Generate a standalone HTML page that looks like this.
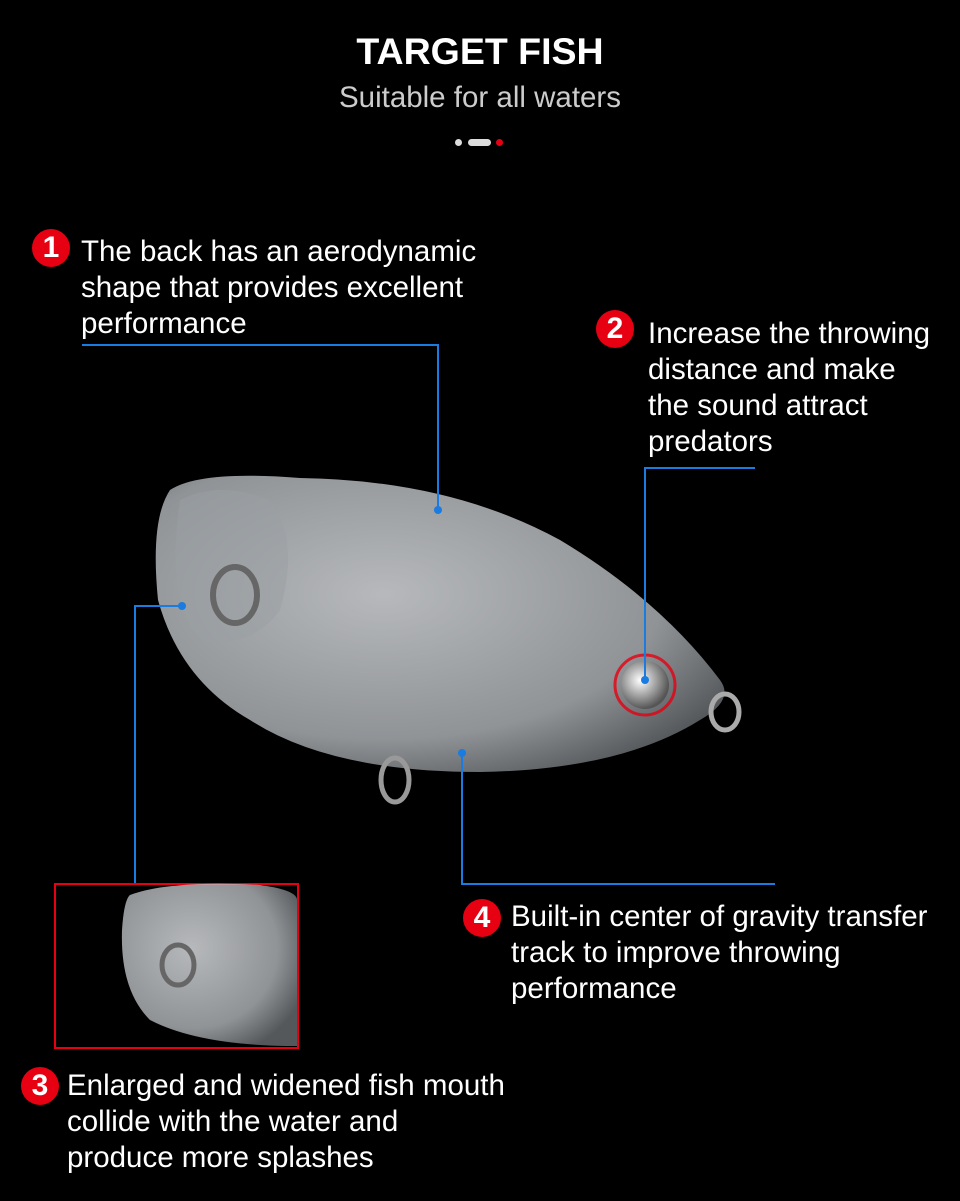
<!DOCTYPE html>
<html><head><meta charset="utf-8"><style>
body{margin:0;width:960px;height:1201px;background:#000;position:relative;overflow:hidden;font-family:"Liberation Sans",sans-serif;color:#fff}
.t{position:absolute;font-size:29.5px;line-height:36px;color:#fff;white-space:nowrap}
.b{position:absolute;width:38px;height:38px;border-radius:50%;background:#e60012;color:#fff;font-weight:bold;font-size:30px;line-height:38px;text-align:center}
</style></head><body>
<div style="position:absolute;top:30px;width:960px;text-align:center;font-weight:bold;font-size:37.5px">TARGET FISH</div>
<div style="position:absolute;top:81px;width:960px;text-align:center;font-size:29.5px;color:#ccc">Suitable for all waters</div>
<div style="position:absolute;left:455px;top:139px;width:7px;height:7px;border-radius:50%;background:#ddd"></div>
<div style="position:absolute;left:468px;top:139px;width:23px;height:7px;border-radius:4px;background:#ddd"></div>
<div style="position:absolute;left:496px;top:139px;width:7px;height:7px;border-radius:50%;background:#e60012"></div>

<svg width="960" height="1201" style="position:absolute;left:0;top:0">
<defs>
<radialGradient id="g" cx="0.4" cy="0.4" r="0.7"><stop offset="0" stop-color="#e4e7ea"/><stop offset="0.7" stop-color="#b4b8bc"/><stop offset="1" stop-color="#6a6e72"/></radialGradient>
<radialGradient id="s" cx="0.4" cy="0.4" r="0.6"><stop offset="0" stop-color="#fff"/><stop offset="1" stop-color="#555"/></radialGradient>
</defs>
<path d="M170 490 Q200 470 300 478 Q450 480 560 540 Q660 600 720 680 Q735 700 700 720 Q620 770 480 772 Q330 772 250 720 Q180 680 158 600 Q150 520 170 490Z" fill="url(#g)" opacity="0.8"/>
<path d="M180 500 Q220 480 270 500 Q300 540 280 610 Q250 650 200 640 Q165 600 180 500Z" fill="#9a9fa4" opacity="0.5"/>
<ellipse cx="235" cy="595" rx="22" ry="28" fill="none" stroke="#666" stroke-width="6"/>
<ellipse cx="395" cy="780" rx="14" ry="22" fill="none" stroke="#999" stroke-width="5"/>
<ellipse cx="725" cy="712" rx="14" ry="18" fill="none" stroke="#aaa" stroke-width="5"/>
<circle cx="645" cy="685" r="30" fill="none" stroke="#e60012" stroke-width="3" opacity="0.8"/>
<circle cx="645" cy="685" r="24" fill="url(#s)"/>
<g stroke="#1a7be0" stroke-width="2" fill="none">
<polyline points="82,345 438,345 438,510"/>
<polyline points="755,468 645,468 645,680"/>
<polyline points="182,606 135,606 135,884"/>
<polyline points="462,753 462,884 775,884"/>
</g>
<g fill="#1a7be0"><circle cx="438" cy="510" r="4"/><circle cx="645" cy="680" r="4"/><circle cx="182" cy="606" r="4"/><circle cx="462" cy="753" r="4"/></g>
<rect x="55" y="884" width="243" height="164" fill="#000" stroke="#e60012" stroke-width="2"/>
<path d="M130 895 Q170 880 260 885 Q297 890 297 900 L297 1046 Q200 1046 150 1020 Q120 990 122 930 Q124 900 130 895Z" fill="url(#g)" opacity="0.8"/>
<ellipse cx="178" cy="965" rx="16" ry="20" fill="none" stroke="#666" stroke-width="5"/>
</svg>

<div class="b" style="left:32px;top:229px">1</div>
<div class="t" style="left:81px;top:234px">The back has an aerodynamic<br>shape that provides excellent<br>performance</div>
<div class="b" style="left:596px;top:310px">2</div>
<div class="t" style="left:648px;top:316px">Increase the throwing<br>distance and make<br>the sound attract<br>predators</div>
<div class="b" style="left:463px;top:899px">4</div>
<div class="t" style="left:511px;top:899px">Built-in center of gravity transfer<br>track to improve throwing<br>performance</div>
<div class="b" style="left:21px;top:1067px">3</div>
<div class="t" style="left:67px;top:1068px">Enlarged and widened fish mouth<br>collide with the water and<br>produce more splashes</div>
</body></html>
